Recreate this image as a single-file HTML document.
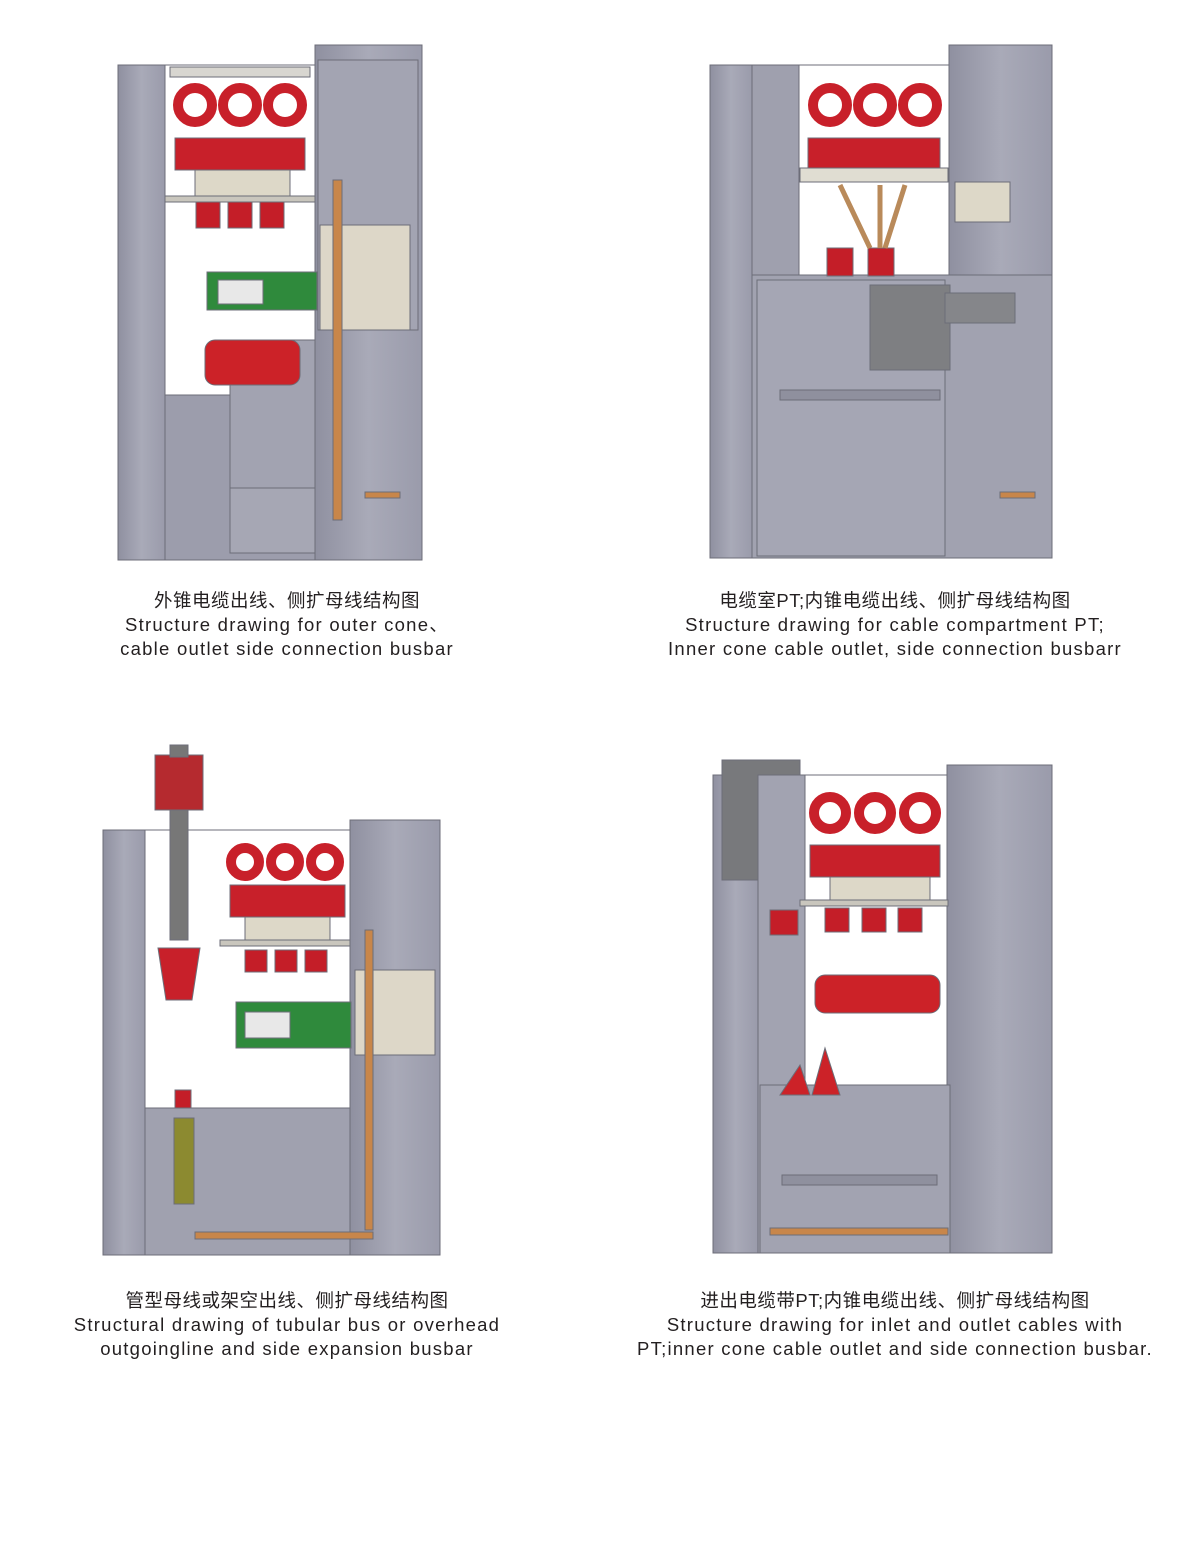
<!DOCTYPE html>
<html><head><meta charset="utf-8"><style>
body{margin:0;background:#fff;width:1200px;height:1551px;position:relative;overflow:hidden}
.cap{position:absolute;text-align:center;font-family:"Liberation Sans","Noto Sans CJK SC",sans-serif;font-size:18.5px;line-height:24px;color:#231f20;letter-spacing:1.25px;white-space:nowrap}
.cap span{letter-spacing:0.5px}
svg{position:absolute;left:0;top:0}
</style></head><body>
<svg width="1200" height="1551" viewBox="0 0 1200 1551">
<defs>
<linearGradient id="g" x1="0" x2="1"><stop offset="0" stop-color="#8f90a0"/><stop offset="0.5" stop-color="#a9aab8"/><stop offset="1" stop-color="#9a9bab"/></linearGradient>
</defs>
<g stroke="#6c6d78" stroke-width="1">
<!-- PANEL 1 -->
<rect x="118" y="65" width="47" height="495" fill="url(#g)"/>
<rect x="165" y="65" width="150" height="330" fill="#fff"/>
<rect x="170" y="67" width="140" height="10" fill="#d8d6d0"/>
<rect x="315" y="45" width="107" height="515" fill="url(#g)"/>
<rect x="318" y="60" width="100" height="270" fill="#a3a4b2"/>
<rect x="165" y="395" width="150" height="165" fill="#9c9dac"/>
<rect x="230" y="340" width="85" height="150" fill="#a2a3b1"/>
<rect x="230" y="488" width="85" height="65" fill="#a6a7b4"/>
<rect x="175" y="138" width="130" height="32" fill="#c8202a"/>
<rect x="195" y="170" width="95" height="28" fill="#ddd8c8"/>
<rect x="165" y="196" width="150" height="6" fill="#c9c6bd"/>
<rect x="196" y="202" width="24" height="26" fill="#c41e28"/><rect x="228" y="202" width="24" height="26" fill="#c41e28"/><rect x="260" y="202" width="24" height="26" fill="#c41e28"/>
<rect x="207" y="272" width="110" height="38" fill="#2f8a3c"/>
<rect x="218" y="280" width="45" height="24" fill="#e8e8e8"/>
<rect x="205" y="340" width="95" height="45" rx="10" fill="#cc2228"/>
<rect x="320" y="225" width="90" height="105" fill="#ddd7c8"/>
<rect x="333" y="180" width="9" height="340" fill="#c8864a"/>
<rect x="365" y="492" width="35" height="6" fill="#c8864a"/>
<!-- PANEL 2 -->
<rect x="710" y="65" width="42" height="493" fill="url(#g)"/>
<rect x="752" y="65" width="47" height="493" fill="#9fa0ae"/>
<rect x="799" y="65" width="150" height="210" fill="#fff"/>
<rect x="949" y="45" width="103" height="230" fill="url(#g)"/>
<rect x="752" y="275" width="300" height="283" fill="#a1a2b0"/>
<rect x="757" y="280" width="188" height="276" fill="#a5a6b4"/>
<rect x="870" y="285" width="80" height="85" fill="#7e7f82"/>
<rect x="945" y="293" width="70" height="30" fill="#85868a"/>
<rect x="780" y="390" width="160" height="10" fill="#8f909e"/>
<rect x="808" y="138" width="132" height="30" fill="#c8202a"/>
<rect x="800" y="168" width="148" height="14" fill="#e0ddd2"/>
<rect x="827" y="248" width="26" height="28" fill="#c41e28"/><rect x="868" y="248" width="26" height="28" fill="#c41e28"/>
<path d="M840 185 L870 248 M880 185 L880 248 M905 185 L885 248" stroke="#b98a5a" stroke-width="5" fill="none"/>
<rect x="955" y="182" width="55" height="40" fill="#ddd8c8"/>
<rect x="1000" y="492" width="35" height="6" fill="#c8864a"/>
<!-- PANEL 3 -->
<rect x="103" y="830" width="42" height="425" fill="url(#g)"/>
<rect x="145" y="830" width="205" height="280" fill="#fff"/>
<rect x="350" y="820" width="90" height="435" fill="url(#g)"/>
<rect x="145" y="1108" width="205" height="147" fill="#a0a1af"/>
<rect x="155" y="755" width="48" height="55" fill="#b52a2f"/>
<rect x="170" y="745" width="18" height="12" fill="#777"/>
<rect x="170" y="810" width="18" height="130" fill="#777"/>
<path d="M158 948 L200 948 L192 1000 L166 1000Z" fill="#c8202a"/>
<rect x="230" y="885" width="115" height="32" fill="#c8202a"/>
<rect x="245" y="917" width="85" height="25" fill="#ddd8c8"/>
<rect x="220" y="940" width="130" height="6" fill="#c9c6bd"/>
<rect x="245" y="950" width="22" height="22" fill="#c41e28"/><rect x="275" y="950" width="22" height="22" fill="#c41e28"/><rect x="305" y="950" width="22" height="22" fill="#c41e28"/>
<rect x="236" y="1002" width="115" height="46" fill="#2f8a3c"/>
<rect x="245" y="1012" width="45" height="26" fill="#e8e8e8"/>
<rect x="355" y="970" width="80" height="85" fill="#ddd7c8"/>
<rect x="175" y="1090" width="16" height="18" fill="#c41e28"/>
<rect x="174" y="1118" width="20" height="86" fill="#8c8a30"/>
<rect x="365" y="930" width="8" height="300" fill="#c8864a"/>
<rect x="195" y="1232" width="178" height="7" fill="#c8864a"/>
<!-- PANEL 4 -->
<rect x="713" y="775" width="45" height="478" fill="url(#g)"/>
<rect x="722" y="760" width="78" height="120" fill="#78797c"/>
<rect x="758" y="775" width="50" height="478" fill="#a2a3b1"/>
<rect x="805" y="775" width="145" height="310" fill="#fff"/>
<rect x="947" y="765" width="105" height="488" fill="url(#g)"/>
<rect x="760" y="1085" width="190" height="168" fill="#a2a3b1"/>
<rect x="782" y="1175" width="155" height="10" fill="#8f909e"/>
<rect x="810" y="845" width="130" height="32" fill="#c8202a"/>
<rect x="830" y="877" width="100" height="25" fill="#ddd8c8"/>
<rect x="800" y="900" width="148" height="6" fill="#c9c6bd"/>
<rect x="825" y="908" width="24" height="24" fill="#c41e28"/><rect x="862" y="908" width="24" height="24" fill="#c41e28"/><rect x="898" y="908" width="24" height="24" fill="#c41e28"/>
<rect x="770" y="910" width="28" height="25" fill="#c41e28"/>
<rect x="815" y="975" width="125" height="38" rx="10" fill="#cc2228"/>
<path d="M780 1095 L800 1065 L810 1095Z M812 1095 L825 1048 L840 1095Z" fill="#cc2228"/>
<rect x="770" y="1228" width="178" height="7" fill="#c8864a"/>
</g>
<g fill="none" stroke-width="10">
<circle cx="195" cy="105" r="17" stroke="#c8202a"/><circle cx="240" cy="105" r="17" stroke="#c8202a"/><circle cx="285" cy="105" r="17" stroke="#c8202a"/>
<circle cx="830" cy="105" r="17" stroke="#c8202a"/><circle cx="875" cy="105" r="17" stroke="#c8202a"/><circle cx="920" cy="105" r="17" stroke="#c8202a"/>
<circle cx="245" cy="862" r="14" stroke="#c8202a"/><circle cx="285" cy="862" r="14" stroke="#c8202a"/><circle cx="325" cy="862" r="14" stroke="#c8202a"/>
<circle cx="830" cy="813" r="16" stroke="#c8202a"/><circle cx="875" cy="813" r="16" stroke="#c8202a"/><circle cx="920" cy="813" r="16" stroke="#c8202a"/>
</g>
</svg>
<div class="cap" style="left:37px;width:500px;top:589px"><span>外锥电缆出线、侧扩母线结构图</span><br>Structure drawing for outer cone、<br>cable outlet side connection busbar</div>
<div class="cap" style="left:595px;width:600px;top:589px"><span>电缆室PT;内锥电缆出线、侧扩母线结构图</span><br>Structure drawing for cable compartment PT;<br>Inner cone cable outlet, side connection busbarr</div>
<div class="cap" style="left:-13px;width:600px;top:1289px"><span>管型母线或架空出线、侧扩母线结构图</span><br>Structural drawing of tubular bus or overhead<br>outgoingline and side expansion busbar</div>
<div class="cap" style="left:570px;width:650px;top:1289px"><span>进出电缆带PT;内锥电缆出线、侧扩母线结构图</span><br>Structure drawing for inlet and outlet cables with<br>PT;inner cone cable outlet and side connection busbar.</div>
</body></html>
